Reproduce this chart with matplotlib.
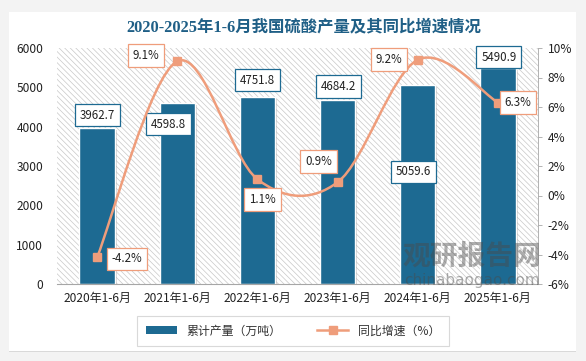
import numpy as np
import matplotlib
matplotlib.use("Agg")
import matplotlib.pyplot as plt
from matplotlib.patches import Rectangle, FancyBboxPatch
from matplotlib.lines import Line2D
from matplotlib.path import Path
from matplotlib.patches import PathPatch
import matplotlib.patheffects as pe

plt.rcParams['font.family'] = ['Noto Sans CJK SC', 'DejaVu Sans']
plt.rcParams['hatch.linewidth'] = 0.5

categories = ["2020年1-6月", "2021年1-6月", "2022年1-6月", "2023年1-6月", "2024年1-6月", "2025年1-6月"]
output = [3962.7, 4598.8, 4751.8, 4684.2, 5059.6, 5490.9]
growth = [-4.2, 9.1, 1.1, 0.9, 9.2, 6.3]
left_ticks = [0, 1000, 2000, 3000, 4000, 5000, 6000]
right_ticks = [-6, -4, -2, 0, 2, 4, 6, 8, 10]

bar_color = '#1d6a92'
line_color = '#ef9d7b'
W, H = 586, 361

fig = plt.figure(figsize=(W/100, H/100), dpi=100, facecolor='#f3f3f3')
# white card
card = FancyBboxPatch((9/W, 1-351/H), (576-9)/W, (351-12)/H, boxstyle='square,pad=0',
                      transform=fig.transFigure, facecolor='white', edgecolor='none', zorder=-10,
                      path_effects=[pe.SimplePatchShadow(offset=(0, -1), shadow_rgbFace='#c8c8c8', alpha=0.6), pe.Normal()])
fig.add_artist(card)

ax = fig.add_axes([57/W, 1-284/H, (538-57)/W, (284-48)/H])
ax.set_facecolor('none')
ax2 = ax.twinx()

x = np.arange(len(categories))
ax.set_xlim(-0.5, len(categories)-0.5)
ax.set_ylim(0, 6000)
ax2.set_ylim(-6, 10)

# hatched background
bg = Rectangle((0, 0), 1, 1, transform=ax.transAxes, facecolor='white', edgecolor='#c8c8c8',
               lw=0, hatch='\\\\\\\\\\\\', zorder=0)
ax.add_patch(bg)

bars = ax.bar(x, output, width=0.44, color=bar_color, edgecolor='white', linewidth=1.0, zorder=2,
              path_effects=[pe.SimplePatchShadow(offset=(1.5, -1.5), shadow_rgbFace='#888888', alpha=0.35), pe.Normal()])

# smooth line (Excel-style Bezier through the points)
pts = np.column_stack([x, growth]).astype(float)
ext = np.vstack([pts[0], pts, pts[-1]])
verts = [tuple(pts[0])]
codes = [Path.MOVETO]
for i in range(len(pts)-1):
    p0, p1, p2, p3 = ext[i], ext[i+1], ext[i+2], ext[i+3]
    c1 = p1 + (p2 - p0)/6
    c2 = p2 - (p3 - p1)/6
    verts += [tuple(c1), tuple(c2), tuple(p2)]
    codes += [Path.CURVE4]*3
ax2.add_patch(PathPatch(Path(verts, codes), facecolor='none', edgecolor=line_color, lw=1.8, zorder=3))
ax2.plot(x, growth, ls='none', marker='s', ms=6, color=line_color, zorder=4)

# labels
px = 0.72
bar_off = [(0, 13), (-9, -21), (0, 17), (1, 13), (-4, -87), (1, 11)]
for xi, v, (dx, dy) in zip(x, output, bar_off):
    ax.annotate(f"{v:.1f}", xy=(xi, v), xytext=(dx*px, dy*px), textcoords='offset points',
                ha='center', va='center', fontsize=8.3, color='#222222', zorder=6,
                bbox=dict(boxstyle='square,pad=0.42', fc='white', ec=bar_color, lw=0.9))
g_off = [(30, -1.5), (-31, 6), (5, -20), (-19, 21), (-29, 0), (20, 0)]
for xi, v, (dx, dy) in zip(x, growth, g_off):
    ax2.annotate(f"{v:.1f}%", xy=(xi, v), xytext=(dx*px, dy*px), textcoords='offset points',
                 ha='center', va='center', fontsize=8.3, color='#222222', zorder=6,
                 bbox=dict(boxstyle='square,pad=0.42', fc='white', ec=line_color, lw=0.9))

# axes styling
for a in (ax, ax2):
    for s in ['top', 'left', 'right']:
        a.spines[s].set_visible(False)
ax.spines['bottom'].set_color('#a6a6a6')
ax2.spines['bottom'].set_visible(False)
ax2.spines['right'].set_visible(True)
ax2.spines['right'].set_color('#a6a6a6')
ax2.spines['right'].set_linewidth(0.6)

tfs = 8.6
ax.set_xticks(x)
ax.set_xticklabels(categories, fontsize=tfs, color='#222222')
ax.tick_params(axis='x', length=0, pad=6)
ax.set_yticks(left_ticks)
ax.set_yticklabels([str(t) for t in left_ticks], fontsize=tfs, color='#222222')
ax.tick_params(axis='y', length=0, pad=10)
ax2.set_yticks(right_ticks)
ax2.set_yticklabels([f"{t}%" for t in right_ticks], fontsize=tfs, color='#222222')
ax2.tick_params(axis='y', length=3, color='#a6a6a6', width=0.6, pad=4)

# title
fig.text(304/W, 1-27/H, "2020-2025年1-6月我国硫酸产量及其同比增速情况", ha='center', va='center',
         fontsize=11.8, fontweight='bold', color='#1f5f86', family=['Liberation Serif', 'Noto Sans CJK SC'])

# watermark
fig.text(472/W, 1-257/H, "观研报告网", ha='center', va='center', fontsize=20, fontweight='heavy',
         color='#4a4a4a', alpha=0.45, zorder=10)
fig.text(472/W, 1-281/H, "chinabaogao.com", ha='center', va='center', fontsize=11,
         color='#4a4a4a', alpha=0.45, zorder=10, family=['DejaVu Sans'])

# legend
handles = [Rectangle((0, 0), 1, 1, fc=bar_color, ec='none'),
           Line2D([], [], color=line_color, lw=1.8, marker='s', ms=6)]
leg = fig.legend(handles, ["累计产量（万吨）", "同比增速（%）"], loc='center', bbox_to_anchor=(293/W, 1-331/H),
                 ncol=2, fontsize=tfs, frameon=True, fancybox=False, edgecolor='#d0d0d0',
                 handlelength=2.6, handleheight=0.6, columnspacing=3, borderpad=0.7)
leg.get_frame().set_linewidth(0.8)
for t in leg.get_texts():
    t.set_color('#333333')

fig.savefig('out.png', dpi=100, facecolor=fig.get_facecolor())
